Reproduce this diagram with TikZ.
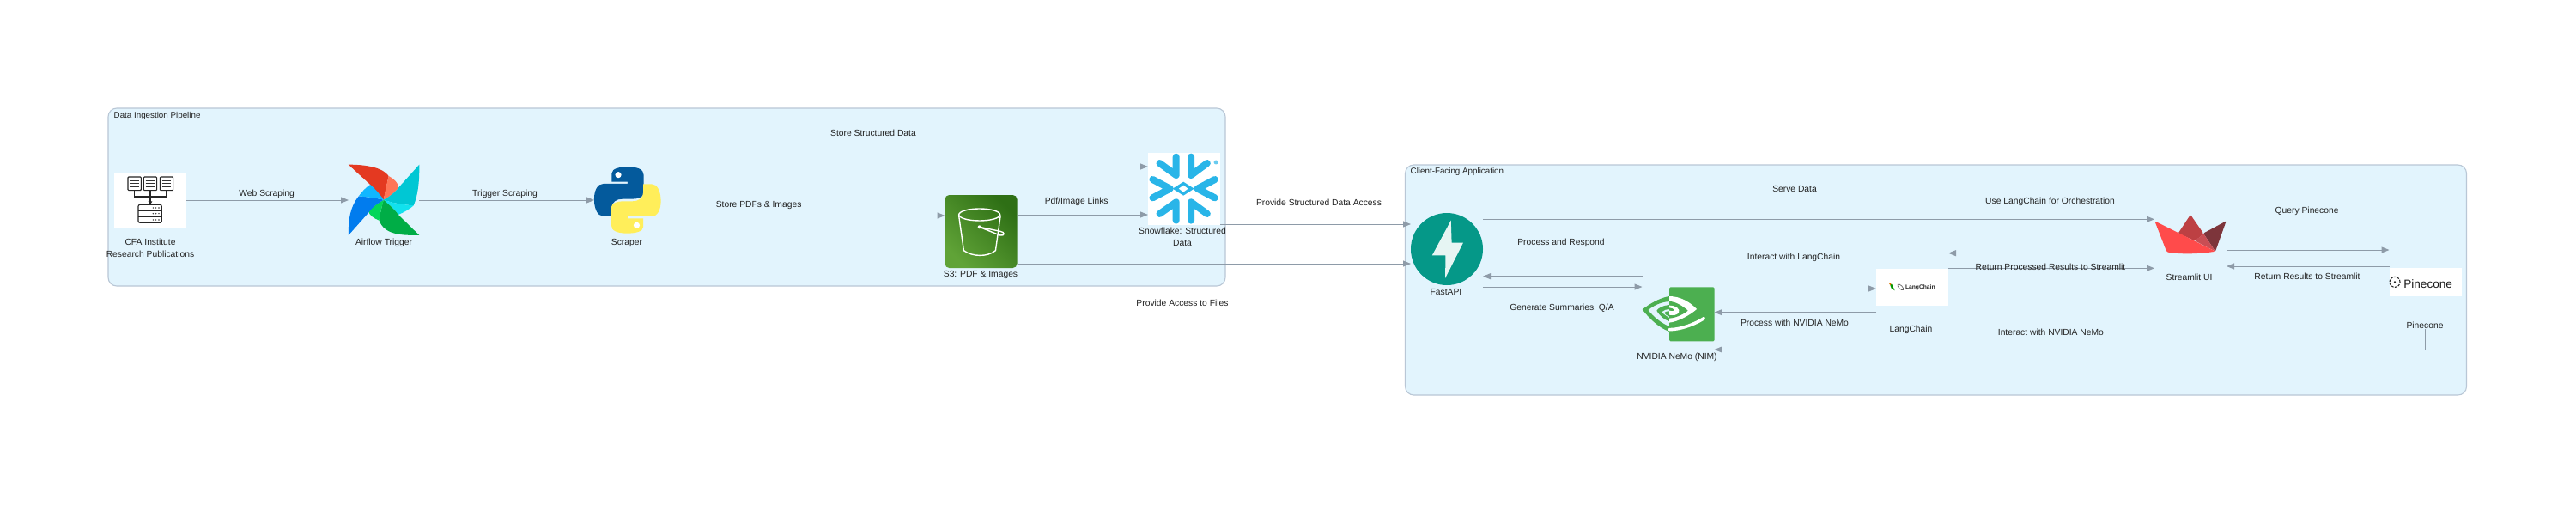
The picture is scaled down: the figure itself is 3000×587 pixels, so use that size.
\documentclass[tikz,border=0pt]{standalone}
\usepackage{fontspec}
\setmainfont{Liberation Sans}
\usetikzlibrary{arrows.meta,shapes.geometric}
\definecolor{clfill}{HTML}{E2F4FD}
\definecolor{clline}{HTML}{B9C7D6}
\definecolor{linec}{HTML}{8E9BA8}
\definecolor{txtc}{HTML}{222222}
\definecolor{s3a}{HTML}{2E6F15}
\definecolor{s3b}{HTML}{60A337}
\definecolor{fastc}{HTML}{059888}
\definecolor{nvc}{HTML}{4CAF50}
\definecolor{snowc}{HTML}{29B5E8}
\definecolor{pyb}{HTML}{045A9C}
\definecolor{pyy}{HTML}{FFEE5A}
\definecolor{afr}{HTML}{E43921}
\definecolor{afs}{HTML}{FF7557}
\definecolor{aft}{HTML}{00C7D4}
\definecolor{afc}{HTML}{11E1EE}
\definecolor{afg}{HTML}{00AD46}
\definecolor{afl}{HTML}{04D659}
\definecolor{afb}{HTML}{017CEE}
\definecolor{afk}{HTML}{11B7FF}
\definecolor{stm}{HTML}{BD4043}
\definecolor{std}{HTML}{7D353B}
\definecolor{stb}{HTML}{C94E54}
\definecolor{str}{HTML}{FF4B4B}
\tikzset{
 clusterbox/.style={draw=clline,fill=clfill,line width=1.1pt,rounded corners=10pt},
 lbl/.style={font=\fontsize{10.3}{12}\selectfont,text=txtc,inner sep=0pt,align=center},
 cltitle/.style={lbl,anchor=west,font=\fontsize{9.8}{12}\selectfont},
 icon/.style={inner sep=0pt,outer sep=0pt,minimum width=84pt,rectangle},
 whiteicon/.style={icon,fill=white},
 conn/.style={draw=linec,line width=1pt,-{Triangle[length=9pt,width=7pt]}},
 zoomone/.style={shift={(100,110)},x=.4464pt,y=-.3333pt},
 zoomtwo/.style={shift={(780,110)},x=.4464pt,y=-.3333pt},
 third/.style={x=.3333pt,y=-.3333pt},
 cfaline/.style={draw=black!85,line width=1.1pt},
}
\newcommand{\pyhalf}{(-41,-69) -- (-41,-94) .. controls (-41,-111) and (-18,-116) .. (0,-116) .. controls (27,-116) and (42,-107) .. (42,-89) -- (42,-24) .. controls (42,-11) and (27,-4) .. (12,-4) -- (-13,-4) .. controls (-28,-4) and (-41,6) .. (-41,26) -- (-41,56) -- (-63,56) .. controls (-78,56) and (-87,31) .. (-87,-4) .. controls (-87,-34) and (-78,-57) .. (-63,-57) -- (0,-57) -- (0,-64) -- (-41,-64) -- cycle}
\begin{document}
\begin{tikzpicture}[x=1pt,y=-1pt]
\useasboundingbox[fill=white] (0,0) rectangle (3000,587);
% clusters
\node[clusterbox,minimum width=1301pt,minimum height=207pt,inner sep=0pt] (clA) at (776.5,229.5) {};
\node[clusterbox,minimum width=1236pt,minimum height=268pt,inner sep=0pt] (clB) at (2254.5,326) {};
\node[cltitle] (clAt) at (132.5,135) {Data Ingestion Pipeline};
\node[cltitle] (clBt) at (1642.5,199.7) {Client-Facing Application};
% icon nodes
\node[whiteicon,minimum height=64pt] (cfa) at (175,233) {};
\node[icon,minimum width=82pt,minimum height=82pt] (airflow) at (447,233) {};
\node[icon,minimum width=78pt,minimum height=78pt] (python) at (731,233) {};
\node[icon,minimum height=85pt,rounded corners=5pt,shading=axis,left color=s3a,right color=s3b,shading angle=-45] (s3) at (1142.5,269.5) {};
\node[whiteicon,minimum height=84pt] (snow) at (1379,220) {};
\node[ellipse,inner sep=0pt,outer sep=0pt,minimum width=84pt,minimum height=84pt,fill=fastc] (fastapi) at (1685,290) {};
\node[icon,minimum height=64pt] (nemo) at (1954.5,366) {};
\node[whiteicon,minimum height=43pt] (lang) at (2227,334.5) {};
\node[icon,minimum height=46pt] (stream) at (2551,273) {};
\node[whiteicon,minimum height=33pt] (pine) at (2824.5,328.5) {};
% CFA logo
\begin{scope}[shift={(125,195)},third]
 \foreach \dx in {72,127,184}{
  \draw[cfaline,rounded corners=1pt] (\dx,33) rectangle (\dx+46,80);
  \foreach \yy in {45,56,67}{\draw[black!80,line width=1pt] (\dx+7,\yy) -- (\dx+39,\yy);}
 }
 \draw[cfaline] (95,80) -- (95,102) -- (207,102) -- (207,80);
 \draw[cfaline,-{Triangle[length=4pt,width=4.5pt]}] (150,80) -- (150,130);
 \draw[cfaline,rounded corners=2pt] (108,130) rectangle (190,193);
 \draw[cfaline] (108,151) -- (190,151) (108,172) -- (190,172);
 \foreach \yy in {141,161,183}{\foreach \xx in {160,170,180}{\fill[black!80] (\xx,\yy) circle[radius=.8pt];}}
\end{scope}
% Airflow logo
\begin{scope}[zoomone]
 \fill[afr] (685,245) .. controls (730,245) and (775,255) .. (790,285) .. controls (785,315) and (780,345) .. (777,368) -- (742,315) -- cycle;
 \fill[afs] (790,285) .. controls (805,295) and (815,310) .. (816,325) .. controls (805,345) and (790,358) .. (777,368) .. controls (780,340) and (785,315) .. (790,285) -- cycle;
 \fill[aft] (870,245) .. controls (870,300) and (868,345) .. (855,388) .. controls (830,385) and (800,380) .. (777,368) .. controls (790,358) and (805,345) .. (816,325) -- cycle;
 \fill[afc] (777,368) .. controls (800,380) and (830,385) .. (855,388) .. controls (845,400) and (830,412) .. (815,420) .. controls (805,400) and (790,385) .. (777,368) -- cycle;
 \fill[afg] (870,492) .. controls (820,492) and (780,490) .. (765,440) .. controls (768,415) and (772,390) .. (777,368) .. controls (790,385) and (805,400) .. (815,420) -- cycle;
 \fill[afl] (777,368) .. controls (772,390) and (768,415) .. (765,440) .. controls (750,432) and (738,420) .. (738,408) .. controls (748,392) and (762,380) .. (777,368) -- cycle;
 \fill[afb] (685,492) .. controls (685,440) and (688,395) .. (712,355) .. controls (735,358) and (758,362) .. (777,368) .. controls (762,380) and (748,392) .. (738,412) -- cycle;
 \fill[afk] (712,355) .. controls (720,340) and (730,325) .. (742,315) .. controls (755,330) and (768,350) .. (777,368) .. controls (758,362) and (735,358) .. (712,355) -- cycle;
\end{scope}
% Python logo
\begin{scope}[zoomone]
 \begin{scope}[shift={(1413,369)}]
  \fill[pyb] \pyhalf;
  \fill[white] (-24,-88) circle[radius=3.6pt];
  \begin{scope}[xscale=-1,yscale=-1]
   \fill[pyy] \pyhalf;
   \fill[white] (-24,-88) circle[radius=3.6pt];
  \end{scope}
 \end{scope}
\end{scope}
% S3 bucket
\begin{scope}[zoomtwo]
 \draw[white,line width=1.4pt] (808,420) ellipse[x radius=24pt,y radius=7pt];
 \draw[white,line width=1.4pt] (754,422) -- (767,545) .. controls (790,568) and (830,568) .. (850,545) -- (863,422);
 \draw[white,line width=1.4pt] (808,463) -- (862,492) .. controls (875,495) and (875,480) .. (862,478) -- (808,463);
 \fill[white] (808,463) circle[radius=2pt];
\end{scope}
% Snowflake logo
\begin{scope}[zoomtwo]
 \draw[snowc,line width=8pt,line cap=round,line join=round]
  (1278,240) -- (1321,282) -- (1321,218)
  (1360,218) -- (1360,282) -- (1402,240)
  (1260,297) -- (1305,329) -- (1260,361)
  (1422,297) -- (1377,329) -- (1422,361)
  (1278,417) -- (1321,376) -- (1321,440)
  (1360,440) -- (1360,376) -- (1402,417);
 \fill[snowc] (1340,305) -- (1368,329) -- (1340,353) -- (1312,329) -- cycle;
 \fill[white] (1340,317) -- (1352,329) -- (1340,341) -- (1328,329) -- cycle;
 \fill[snowc!70] (1425,237) circle[radius=2.5pt];
\end{scope}
% FastAPI bolt
\begin{scope}[shift={(1600,170)},x=.4464pt,y=-.3333pt]
 \fill[white!90!fastc] (201,260) -- (152,382) -- (187,382) -- (186,462) -- (233,338) -- (203,338) -- cycle;
\end{scope}
% NVIDIA logo
\begin{scope}[shift={(1900,325)},third]
 \fill[nvc,rounded corners=1.5pt] (132,28) rectangle (290,217);
 \fill[nvc] (38,106) .. controls (65,85) and (100,65) .. (132,60) -- (132,78) .. controls (105,80) and (80,90) .. (58,108) .. controls (75,130) and (105,155) .. (132,165) -- (132,183) .. controls (95,170) and (60,135) .. (38,106) -- cycle;
 \fill[nvc] (132,90) .. controls (110,92) and (95,100) .. (88,110) .. controls (100,130) and (115,142) .. (132,147) -- (132,135) .. controls (122,130) and (112,122) .. (105,115) .. controls (112,108) and (122,105) .. (132,105) -- cycle;
 \fill[nvc] (132,112) .. controls (122,112) and (115,115) .. (115,118) .. controls (118,124) and (125,128) .. (132,130) -- cycle;
 \fill[white] (132,60) .. controls (170,60) and (205,80) .. (228,105) .. controls (205,125) and (165,148) .. (132,152) -- cycle;
 \fill[nvc] (132,78) .. controls (155,78) and (180,95) .. (197,110) .. controls (185,120) and (160,135) .. (132,137) -- cycle;
 \fill[white] (132,92) .. controls (155,92) and (172,105) .. (165,117) .. controls (158,127) and (145,127) .. (132,125) -- (132,110) .. controls (142,112) and (150,112) .. (150,108) .. controls (146,102) and (140,100) .. (132,100) -- cycle;
 \draw[white,line width=3.6pt,line cap=round] (132,176) .. controls (175,176) and (225,155) .. (253,137);
\end{scope}
% LangChain logo
\begin{scope}[shift={(2180,305)},third]
 \fill[green!60!black] (62,76) -- (70,78) -- (80,100) -- (68,92) -- cycle;
 \fill[orange!90!black] (60,76) -- (66,75) -- (66,82) -- cycle;
 \draw[black!60,line width=.7pt,rotate around={-45:(100,88)}] (100,88) ellipse[x radius=4.5pt,y radius=2pt];
 \node[font=\bfseries\fontsize{6.7}{8}\selectfont,text=black!85,inner sep=0pt] (langt) at (169,90) {LangChain};
\end{scope}
% Streamlit logo
\begin{scope}[shift={(2500,240)},third]
 \fill[stm,rounded corners=1pt] (110,95) -- (153,30) -- (198,95) -- (170,122) -- cycle;
 \fill[std,rounded corners=1pt] (198,95) -- (278,52) -- (240,158) -- cycle;
 \fill[stb] (170,122) -- (198,95) -- (240,158) -- cycle;
 \fill[str,rounded corners=1.5pt] (28,52) -- (240,158) .. controls (180,168) and (110,168) .. (70,160) -- cycle;
\end{scope}
% Pinecone logo
\begin{scope}[shift={(2775,305)},third]
 \draw[black!85,line width=1.1pt,dash pattern=on 2.6pt off 1.4pt] (42,70) circle[radius=6pt];
 \fill[black!85] (42,70) circle[radius=1.2pt];
 \node[font=\fontsize{13.6}{16}\selectfont,text=black!90,inner sep=0pt] (pinet) at (158,76) {Pinecone};
\end{scope}
% node labels
\node[lbl] (cfal) at (175,289) {CFA Institute\\[1.6pt]Research Publications};
\node[lbl] (airl) at (447,283) {Airflow Trigger};
\node[lbl] (pyl) at (730,283) {Scraper};
\node[lbl] (s3l) at (1142,320) {S3: PDF \& Images};
\node[lbl] (snl) at (1377,276) {Snowflake: Structured\\[1.6pt]Data};
\node[lbl] (fal) at (1684,340) {FastAPI};
\node[lbl] (nml) at (1953,416) {NVIDIA NeMo (NIM)};
\node[lbl] (lgl) at (2225.5,384) {LangChain};
\node[lbl] (stl) at (2549.5,323) {Streamlit UI};
\node[lbl] (pnl) at (2824,379) {Pinecone};
% connectors
\draw[conn] (cfa.east) -- (airflow.west);
\draw[conn] (airflow.east) -- (python.west);
\draw[conn] (python.east |- 0,194) -- (snow.west |- 0,194);
\draw[conn] (python.east |- 0,251) -- (s3.west |- 0,251);
\draw[conn] (s3.east |- 0,250) -- (snow.west |- 0,250);
\draw[conn] (snow.east |- 0,261) -- (fastapi.west |- 0,261);
\draw[conn] (s3.east |- 0,307) -- (fastapi.west |- 0,307);
\draw[conn] (fastapi.east |- 0,255.3) -- (stream.west |- 0,255.3);
\draw[conn] (nemo.west |- 0,321.7) -- (fastapi.east |- 0,321.7);
\draw[conn] (fastapi.east |- 0,334) -- (nemo.west |- 0,334);
\draw[conn] (nemo.east |- 0,336) -- (lang.west |- 0,336);
\draw[conn] (lang.west |- 0,363.7) -- (nemo.east |- 0,363.7);
\draw[conn] (stream.west |- 0,294.7) -- (lang.east |- 0,294.7);
\draw[conn] (lang.east |- 0,312.3) -- (stream.west |- 0,312.3);
\draw[conn] (stream.east |- 0,291) -- (pine.west |- 0,291);
\draw[conn] (pine.west |- 0,310) -- (stream.east |- 0,310);
\draw[conn] (pnl.south) |- (nemo.east |- 0,407);
% connector labels
\node[lbl] (e1) at (310.7,226) {Web Scraping};
\node[lbl] (e2) at (588,226) {Trigger Scraping};
\node[lbl] (e3) at (1017,155) {Store Structured Data};
\node[lbl] (e4) at (883.6,239) {Store PDFs \& Images};
\node[lbl] (e5) at (1253.7,235) {Pdf/Image Links};
\node[lbl] (e6) at (1536,236) {Provide Structured Data Access};
\node[lbl] (e7) at (1377,353) {Provide Access to Files};
\node[lbl] (e8) at (2090,220) {Serve Data};
\node[lbl] (e9) at (2387.5,235) {Use LangChain for Orchestration};
\node[lbl] (e10) at (1818,283) {Process and Respond};
\node[lbl] (e11) at (1819,359) {Generate Summaries, Q/A};
\node[lbl] (e12) at (2089,300) {Interact with LangChain};
\node[lbl] (e13) at (2090,376) {Process with NVIDIA NeMo};
\node[lbl] (e14) at (2388,311) {Return Processed Results to Streamlit};
\node[lbl] (e15) at (2686.6,246) {Query Pinecone};
\node[lbl] (e16) at (2687,322) {Return Results to Streamlit};
\node[lbl] (e17) at (2388.4,387) {Interact with NVIDIA NeMo};
\end{tikzpicture}
\end{document}
